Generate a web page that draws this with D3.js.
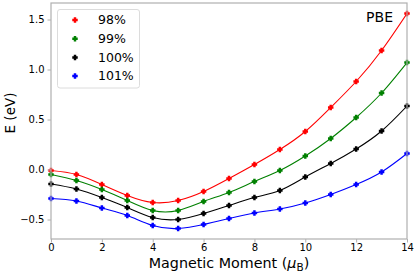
<!DOCTYPE html>
<html>
<head>
<meta charset="utf-8">
<script src="https://cdn.jsdelivr.net/npm/d3@7"></script>
<style>
  body { margin: 0; background: #fff; }
  svg { display: block; font-family: "DejaVu Sans", sans-serif; }
</style>
</head>
<body>
<svg id="chart" width="416" height="272"></svg>
<script>
// Data
var moments = [0, 1, 2, 3, 4, 5, 6, 7, 8, 9, 10, 11, 12, 13, 14];
var e98  = [-0.01, -0.05, -0.15, -0.26, -0.33, -0.31, -0.22, -0.09, 0.05, 0.20, 0.38, 0.62, 0.88, 1.19, 1.56];
var e99  = [-0.05, -0.11, -0.20, -0.31, -0.41, -0.41, -0.32, -0.23, -0.12, -0.01, 0.135, 0.31, 0.52, 0.765, 1.07];
var e100 = [-0.145, -0.195, -0.28, -0.38, -0.48, -0.50, -0.44, -0.36, -0.28, -0.21, -0.075, 0.06, 0.205, 0.385, 0.635];
var e101 = [-0.29, -0.315, -0.385, -0.46, -0.56, -0.59, -0.55, -0.49, -0.435, -0.395, -0.335, -0.25, -0.15, -0.025, 0.16];
var seriesNames = ['98%', '99%', '100%', '101%'];
var seriesColors = ['#ff0000', '#008000', '#000000', '#0000ff'];
var xTicks = [0, 2, 4, 6, 8, 10, 12, 14];
var yTicks = [-0.5, 0.0, 0.5, 1.0, 1.5];

(function() {
  'use strict';

  var svg = d3.select('#chart');
  var left = 51, right = 407, top = 3, bottom = 239;

  var x = d3.scaleLinear().domain([0, 14]).range([left, right]);
  var y = d3.scaleLinear().domain([-0.695, 1.665]).range([bottom, top]);

  var allSeries = [e98, e99, e100, e101].map(function(vals, i) {
    return {
      name: seriesNames[i],
      color: seriesColors[i],
      points: moments.map(function(m, j) { return { m: m, e: vals[j] }; })
    };
  });

  // clip so curves stop at the frame
  svg.append('clipPath').attr('id', 'clip')
    .append('rect')
    .attr('x', left).attr('y', top)
    .attr('width', right - left).attr('height', bottom - top);

  var line = d3.line()
    .x(function(d) { return x(d.m); })
    .y(function(d) { return y(d.e); })
    .curve(d3.curveNatural);

  var plot = svg.append('g').attr('clip-path', 'url(#clip)');

  plot.selectAll('path.curve')
    .data(allSeries)
    .join('path')
    .attr('class', 'curve')
    .attr('d', function(d) { return line(d.points); })
    .style('fill', 'none')
    .style('stroke', function(d) { return d.color; })
    .style('stroke-width', 1.1);

  // filled plus marker, fatter arms than symbolCross
  var plusMarker = {
    draw: function(ctx, size) {
      var r = Math.sqrt(size) / 2, a = r * 0.45;
      ctx.moveTo(-r, -a); ctx.lineTo(-a, -a); ctx.lineTo(-a, -r);
      ctx.lineTo(a, -r); ctx.lineTo(a, -a); ctx.lineTo(r, -a);
      ctx.lineTo(r, a); ctx.lineTo(a, a); ctx.lineTo(a, r);
      ctx.lineTo(-a, r); ctx.lineTo(-a, a); ctx.lineTo(-r, a);
      ctx.closePath();
    }
  };
  var marker = d3.symbol().type(plusMarker).size(30);

  svg.selectAll('g.marks')
    .data(allSeries)
    .join('g')
    .attr('class', 'marks')
    .style('fill', function(d) { return d.color; })
    .selectAll('path')
    .data(function(d) { return d.points; })
    .join('path')
    .attr('d', marker)
    .attr('transform', function(d) { return 'translate(' + x(d.m) + ',' + y(d.e) + ')'; });

  // Frame
  svg.append('rect')
    .attr('x', left).attr('y', top)
    .attr('width', right - left).attr('height', bottom - top)
    .style('fill', 'none')
    .style('stroke', '#b0b0b0')
    .style('stroke-width', 1.2);

  // Axes
  var xAxis = svg.append('g')
    .attr('transform', 'translate(0,' + bottom + ')')
    .call(d3.axisBottom(x).tickValues(xTicks).tickSize(3.5).tickPadding(1.5).tickFormat(d3.format('d')));
  var yAxis = svg.append('g')
    .attr('transform', 'translate(' + left + ',0)')
    .call(d3.axisLeft(y).tickValues(yTicks).tickSize(3.5).tickPadding(3)
      .tickFormat(function(d) { return d3.format('.1f')(d).replace('-', '\u2212'); }));

  [xAxis, yAxis].forEach(function(ax) {
    ax.select('.domain').remove();
    ax.selectAll('line').style('stroke', '#b0b0b0');
    ax.selectAll('text')
      .style('font-family', '"DejaVu Sans", sans-serif')
      .style('font-size', '10px')
      .style('fill', '#000');
  });

  // Axis titles
  var xLabel = svg.append('text')
    .attr('x', 229)
    .attr('y', 267.5)
    .attr('text-anchor', 'middle')
    .style('font-size', '14.3px')
    .style('fill', '#000');
  xLabel.append('tspan').text('Magnetic Moment (');
  xLabel.append('tspan').text('\u03bc').style('font-style', 'italic');
  xLabel.append('tspan').text('B').attr('dy', 3).style('font-size', '10.5px');
  xLabel.append('tspan').text(')').attr('dy', -3);

  svg.append('text')
    .attr('transform', 'translate(15,113) rotate(-90)')
    .attr('text-anchor', 'middle')
    .style('font-size', '13.5px')
    .style('fill', '#000')
    .text('E (eV)');

  svg.append('text')
    .attr('x', 393).attr('y', 22)
    .attr('text-anchor', 'end')
    .style('font-size', '14px')
    .style('fill', '#000')
    .text('PBE');

  // Legend
  var legend = svg.append('g');
  legend.append('rect')
    .attr('x', 57.5).attr('y', 9.5)
    .attr('width', 82).attr('height', 78.5)
    .attr('rx', 2.5)
    .style('fill', '#fff')
    .style('fill-opacity', 0.8)
    .style('stroke', '#dcdcdc')
    .style('stroke-width', 1);

  var items = legend.selectAll('g.item')
    .data(allSeries)
    .join('g')
    .attr('class', 'item')
    .attr('transform', function(d, i) { return 'translate(0,' + (20 + i * 18.7) + ')'; });

  items.append('path')
    .attr('d', marker)
    .attr('transform', 'translate(75,0)')
    .style('fill', function(d) { return d.color; });

  items.append('text')
    .attr('x', 98)
    .attr('dy', '0.35em')
    .style('font-size', '12.5px')
    .style('fill', '#000')
    .text(function(d) { return d.name; });
})();
</script>
</body>
</html>
